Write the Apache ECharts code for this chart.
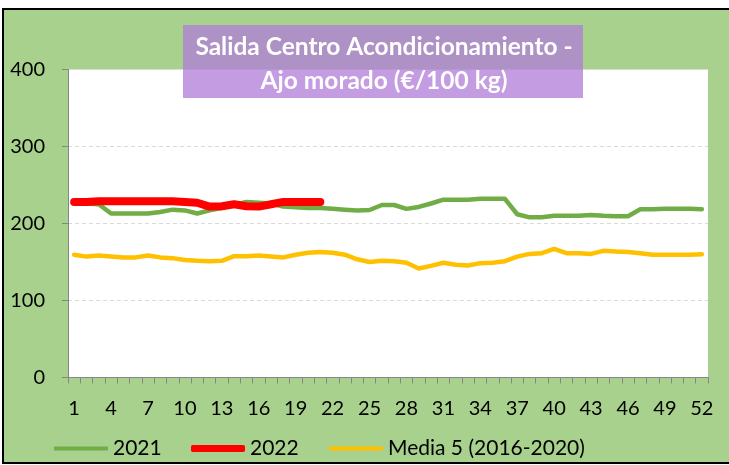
<!DOCTYPE html>
<html>
<head>
<meta charset="utf-8">
<script src="https://cdn.jsdelivr.net/npm/echarts@6/dist/echarts.min.js"></script>
<style>
html,body{margin:0;padding:0;background:#fff;}
#c{width:729px;height:465px;}
</style>
</head>
<body>
<div id="c"></div>
<script>
const weeks = ['1','2','3','4','5','6','7','8','9','10','11','12','13','14','15','16','17','18','19','20','21','22','23','24','25','26','27','28','29','30','31','32','33','34','35','36','37','38','39','40','41','42','43','44','45','46','47','48','49','50','51','52'];
const yTicks = [0, 100, 200, 300, 400];
const titleLines = ['Salida Centro Acondicionamiento -', 'Ajo morado (€/100 kg)'];
const names = ['2021', '2022', 'Media 5 (2016-2020)'];
const s2021 = [226,226,225,213,213,213,213,215,218,217,213,217,220,224,228,227,226,222,221,220,220,219,218,217,217.5,224,224,219,221.5,226,231,231,231,232,232,232,212,208,208,210,210,210,211,210,209.5,209.5,218.5,218.5,219,219,219,218.5];
const s2022 = [228,228,229,229,229,229,229,229,229,228,227,222,222.5,225,222.5,222,225,228,228,228,228];
const sMedia = [159.5,157,158.5,157,156,156,158.5,156,155,152.5,151.5,151,151.5,157.5,157.5,158.5,157,156,159.5,162,163,162,159.5,153.5,150,151.5,151,149,141.5,145,149,146.5,145.5,148.5,149,151,157,160.5,161.5,167,161.5,161.5,160.5,164.5,163.5,163,161.5,159.5,159.5,159.5,159.5,160];

const FONT = 'Lato';
const chart = echarts.init(document.getElementById('c'), null, {renderer: 'canvas'});
const legendText = {fontFamily: FONT, fontSize: 21, color: '#000'};
chart.setOption({
  animation: false,
  backgroundColor: '#fff',
  graphic: [
    {type: 'rect', z: -10, shape: {x: 3, y: 9, width: 740, height: 454},
     style: {fill: '#A9D18E', stroke: '#000', lineWidth: 2}},
    {type: 'rect', z: 100, shape: {x: 183, y: 25, width: 400, height: 73},
     style: {fill: 'rgba(176,123,215,0.75)'}},
    {type: 'text', z: 101, style: {text: titleLines[0], x: 384, y: 47, textAlign: 'center', textVerticalAlign: 'middle', fill: '#fff', font: 'bold 24.5px ' + FONT}},
    {type: 'text', z: 101, style: {text: titleLines[1], x: 384, y: 81, textAlign: 'center', textVerticalAlign: 'middle', fill: '#fff', font: 'bold 24.5px ' + FONT}}
  ],
  grid: {left: 68, top: 69.5, width: 640, height: 308, show: true, backgroundColor: '#fff', borderWidth: 0},
  legend: [
    {data: [{name: names[0], icon: 'rect'}], left: 54, top: 438, padding: 0, itemWidth: 54, itemHeight: 4, itemGap: 0, textStyle: legendText},
    {data: [{name: names[1], icon: 'roundRect'}], left: 191, top: 438, padding: 0, itemWidth: 54, itemHeight: 7, itemGap: 0, textStyle: legendText},
    {data: [{name: names[2], icon: 'rect'}], left: 329, top: 438, padding: 0, itemWidth: 54, itemHeight: 4, itemGap: 0, textStyle: legendText}
  ],
  xAxis: {
    type: 'category', data: weeks, boundaryGap: true,
    axisLine: {lineStyle: {color: '#868686', width: 1}},
    axisTick: {show: true, interval: 0, length: 6, lineStyle: {color: '#868686'}},
    axisLabel: {interval: 2, margin: 21, fontFamily: FONT, fontSize: 20, color: '#000'},
    splitLine: {show: false}
  },
  yAxis: {
    type: 'value', min: yTicks[0], max: yTicks[yTicks.length - 1], interval: 100,
    axisLine: {show: true, lineStyle: {color: '#868686', width: 1}},
    axisTick: {show: true, length: 6, lineStyle: {color: '#868686'}},
    axisLabel: {margin: 23, fontFamily: FONT, fontSize: 20, color: '#000'},
    splitLine: {show: true, lineStyle: {color: '#D9D9D9', type: [4, 3], width: 1}}
  },
  series: [
    {name: names[2], type: 'line', data: sMedia, symbol: 'none', z: 2, color: '#FFC000',
     lineStyle: {color: '#FFC000', width: 4.5, join: 'round', cap: 'round'}},
    {name: names[0], type: 'line', data: s2021, symbol: 'none', z: 3, color: '#70AD47',
     lineStyle: {color: '#70AD47', width: 4.5, join: 'round', cap: 'round'}},
    {name: names[1], type: 'line', data: s2022, symbol: 'none', z: 4, color: '#FF0000',
     lineStyle: {color: '#FF0000', width: 8, join: 'round', cap: 'round'}}
  ]
});
</script>
</body>
</html>
